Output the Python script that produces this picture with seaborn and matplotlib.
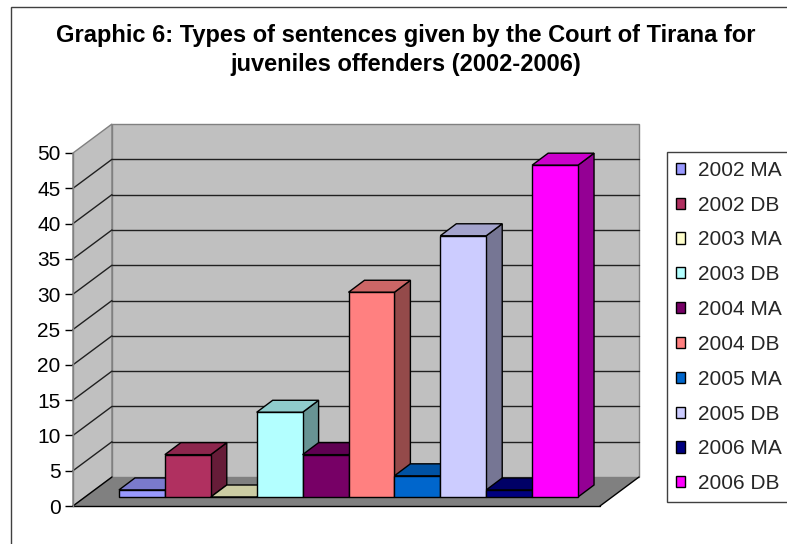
import numpy as np
import pandas as pd
import matplotlib
matplotlib.use("Agg")
import matplotlib.pyplot as plt
import seaborn as sns
from matplotlib.patches import Polygon, Rectangle, Patch
from matplotlib.lines import Line2D
from matplotlib.transforms import offset_copy
from matplotlib.colors import to_rgb

# Sentences per year and type
series = ["2002 MA", "2002 DB", "2003 MA", "2003 DB", "2004 MA",
          "2004 DB", "2005 MA", "2005 DB", "2006 MA", "2006 DB"]
counts = [1, 6, 0, 12, 6, 29, 3, 37, 1, 47]
colors = ["#9999FF", "#B03060", "#FFFFCC", "#B3FFFF", "#770066",
          "#FF8080", "#0066CC", "#CCCCFF", "#000080", "#FF00FF"]
yticks = [0, 5, 10, 15, 20, 25, 30, 35, 40, 45, 50]

sns.set_theme(style="white")
plt.rcParams["font.family"] = ["Liberation Sans", "DejaVu Sans"]

W, H = 787, 544
fig = plt.figure(figsize=(W / 100, H / 100), dpi=100)
fig.patch.set_facecolor("white")

# axes aligned with the front plane of the 3D box
ax = fig.add_axes([73 / W, 38 / H, 527 / W, 353 / H])
ax.patch.set_visible(False)

df = pd.DataFrame({"series": series, "count": counts})
sns.barplot(data=df, x="series", y="count", hue="series", order=series,
            hue_order=series, palette=colors, saturation=1, width=1.0,
            edgecolor="black", linewidth=1, legend=False, ax=ax)

xl, xr = -1.24, 10.24
ax.set_xlim(xl, xr)
ax.set_ylim(yticks[0], yticks[-1])

# pixel -> data unit conversion for depth offsets
o = ax.transData.transform((0, 0))
ppx = ax.transData.transform((1, 0))[0] - o[0]
ppy = ax.transData.transform((0, 1))[1] - o[1]

# wall depth (front plane -> back plane)
WDX, WDY = 39 / ppx, 29 / ppy
# bar depth
BDX, BDY = 16 / ppx, 12 / ppy

wall_c = "#C0C0C0"
floor_c = "#808080"

# left side wall
ax.add_patch(Polygon([(xl, 0), (xl + WDX, WDY), (xl + WDX, 50 + WDY), (xl, 50)],
                     closed=True, facecolor=wall_c, edgecolor="#808080",
                     lw=1, clip_on=False, zorder=1))
# back wall
ax.add_patch(Polygon([(xl + WDX, WDY), (xr + WDX, WDY), (xr + WDX, 50 + WDY),
                      (xl + WDX, 50 + WDY)], closed=True, facecolor=wall_c,
                     edgecolor="#808080", lw=1, clip_on=False, zorder=1))
# floor
ax.add_patch(Polygon([(xl, 0), (xr, 0), (xr + WDX, WDY), (xl + WDX, WDY)],
                     closed=True, facecolor=floor_c, edgecolor="none",
                     clip_on=False, zorder=1.5))
for seg in ([(xl, 0), (xr, 0)], [(xr, 0), (xr + WDX, WDY)], [(xl, 0), (xl + WDX, WDY)]):
    xs, ys = zip(*seg)
    ax.add_line(Line2D(xs, ys, color="black", lw=1, clip_on=False, zorder=2.5))

# gridlines on the walls
for y in yticks[1:-1]:
    ax.add_line(Line2D([xl, xl + WDX], [y, y + WDY], color="#202020", lw=1,
                       clip_on=False, zorder=2))
    ax.add_line(Line2D([xl + WDX, xr + WDX], [y + WDY, y + WDY], color="#202020",
                       lw=1, clip_on=False, zorder=2))

# bars sit a little behind the front plane
bar_t = offset_copy(ax.transData, fig=fig, x=12, y=9, units="dots")


def shade(c, f):
    r, g, b = to_rgb(c)
    return (r * f, g * f, b * f)


for i, p in enumerate(ax.patches[:len(series)]):
    x0 = p.get_x()
    x1 = x0 + p.get_width()
    h = p.get_height()
    fc = p.get_facecolor()
    z = 10 + 3 * i
    p.set_transform(bar_t)
    p.set_clip_on(False)
    p.set_zorder(z + 2)
    # top face
    ax.add_patch(Polygon([(x0, h), (x1, h), (x1 + BDX, h + BDY), (x0 + BDX, h + BDY)],
                         closed=True, facecolor=shade(fc, 0.8), edgecolor="black",
                         lw=1, transform=bar_t, clip_on=False, zorder=z + 1))
    # right side face
    ax.add_patch(Polygon([(x1, 0), (x1 + BDX, BDY), (x1 + BDX, h + BDY), (x1, h)],
                         closed=True, facecolor=shade(fc, 0.58), edgecolor="black",
                         lw=1, transform=bar_t, clip_on=False, zorder=z))

# axis styling
for s in ["top", "right", "bottom"]:
    ax.spines[s].set_visible(False)
ax.spines["left"].set_color("#808080")
ax.spines["left"].set_linewidth(1)
ax.set_yticks(yticks)
ax.set_xticks([])
ax.tick_params(axis="y", left=True, length=6, width=1, color="black",
               labelsize=15, pad=3, labelcolor="black")
ax.set_xlabel("")
ax.set_ylabel("")

# legend
handles = [Patch(facecolor=c, edgecolor="black", linewidth=1) for c in colors]
leg = fig.legend(handles, series, loc="upper left",
                 bbox_to_anchor=(667 / W, 1 - 152 / H), borderaxespad=0,
                 frameon=True, fancybox=False, edgecolor="#404040",
                 framealpha=1, fontsize=15, handlelength=0.45,
                 handleheight=0.45, handletextpad=0.6, labelspacing=0.76,
                 borderpad=0.42)
leg.get_frame().set_linewidth(1)

# chart area border
fig.add_artist(Rectangle((11 / W, -0.1), 1.2, 1 - 7 / H + 0.1,
                         transform=fig.transFigure, fill=False,
                         edgecolor="#404040", lw=1))

fig.text(406 / W, 1 - 50 / H,
         "Graphic 6: Types of sentences given by the Court of Tirana for\n"
         "juveniles offenders (2002-2006)",
         ha="center", va="center", fontsize=17, fontweight="bold",
         linespacing=1.28, color="black")

fig.savefig("out.png", dpi=100)
